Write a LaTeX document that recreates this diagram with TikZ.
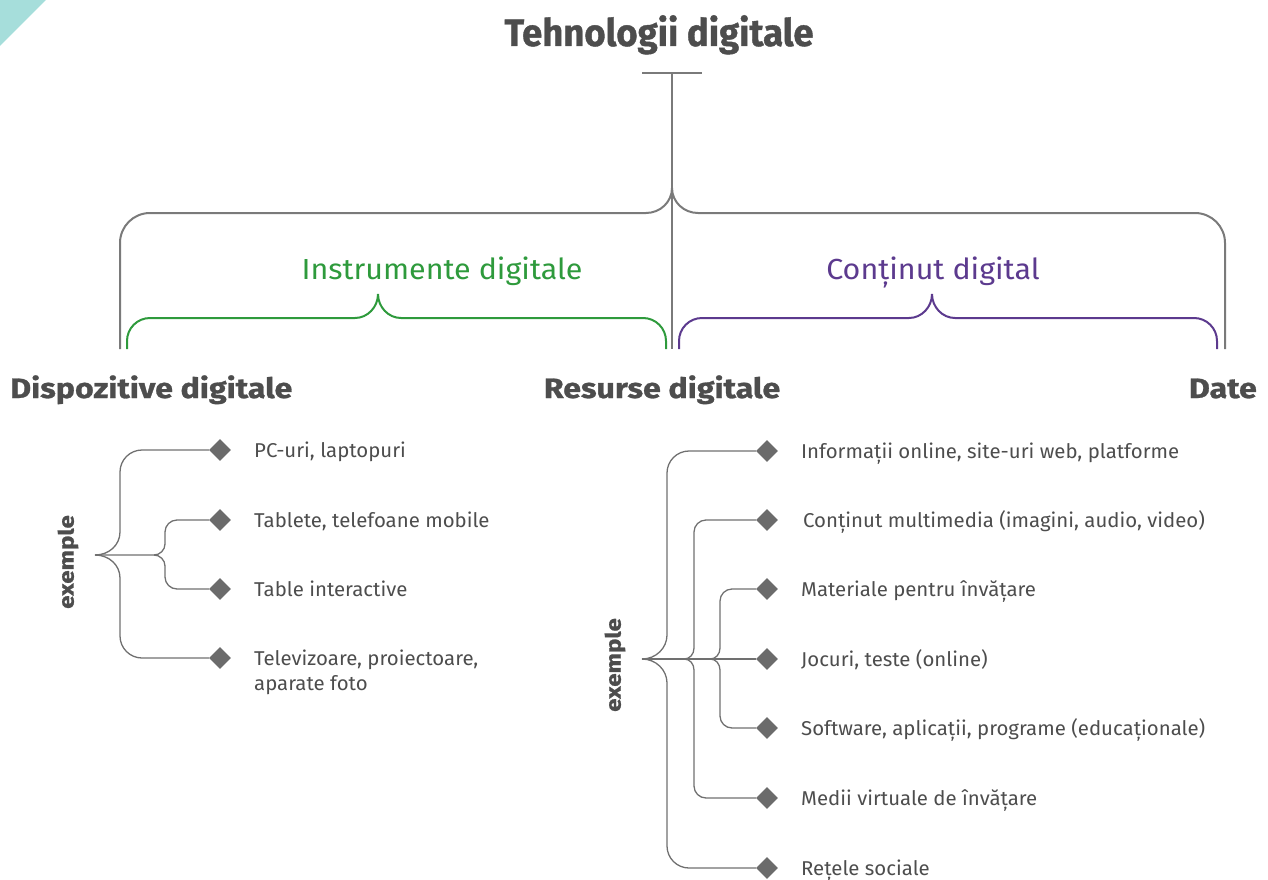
\documentclass[tikz,border=0pt]{standalone}
\usepackage{fontspec}
\setmainfont{Fira Sans}[FakeStretch=1.02]
\newfontfamily\catfont{Fira Sans}[FakeStretch=1.05]
\newfontfamily\headfont{Fira Sans}[FakeStretch=1.15, FakeBold=1]
\newfontfamily\titlefont{Fira Sans}[FakeStretch=0.96, FakeBold=1]
\usetikzlibrary{shapes.geometric}
\definecolor{txt}{HTML}{4D4D4D}
\definecolor{ln}{HTML}{7A7A7A}
\definecolor{tree}{HTML}{707070}
\definecolor{dia}{HTML}{6B6B6B}
\definecolor{grn}{HTML}{2E9A3C}
\definecolor{pur}{HTML}{5C3A8E}
\definecolor{tealc}{HTML}{A6DEDB}
\begin{document}
\begin{tikzpicture}[x=1pt,y=-1pt,
  titlestyle/.style={font=\titlefont\fontsize{38}{44}\selectfont\bfseries, text=txt, inner sep=0},
  head/.style={font=\headfont\fontsize{28}{32}\selectfont\bfseries, text=txt, inner sep=0},
  cat/.style={font=\catfont\fontsize{29}{34}\selectfont, inner sep=0},
  item/.style={font=\fontsize{20}{25}\selectfont, text=txt, inner sep=0, anchor=base west, align=left},
  ex/.style={font=\headfont\fontsize{21}{25}\selectfont\bfseries, text=txt, rotate=90, inner sep=0},
  dmd/.style={diamond, fill=dia, minimum width=22, minimum height=22, inner sep=0},
  conn/.style={draw=tree, line width=1.3},
  bracegray/.style={draw=ln, line width=2},
  bracegrn/.style={draw=grn, line width=2},
  bracepur/.style={draw=pur, line width=2}]
\useasboundingbox (0,0) rectangle (1268,880);
\fill[tealc] (0,0) -- (46,0) -- (0,46) -- cycle;

% title and top braces
\node[titlestyle, anchor=base] (title) at (659,46) {Tehnologii digitale};
\coordinate (tbar) at (672,73);
\coordinate (tstem) at (672,349);
\draw[bracegray] (642,73) -- (702,73);
\draw[bracegray] (tbar) -- (tstem);
\draw[bracegray] (120,349) -- (120,243) .. controls (120,226.4) and (133.4,213) .. (150,213) -- (646,213)
  .. controls (660.4,213) and (672,201.8) .. (672,188) .. controls (672,201.8) and (683.6,213) .. (698,213)
  -- (1195,213) .. controls (1211.6,213) and (1225,226.4) .. (1225,243) -- (1225,349);

\node[cat, text=grn, anchor=base] (instr) at (442,279) {Instrumente digitale};
\draw[bracegrn] (127,349) -- (127,341) .. controls (127,328.3) and (137.3,318) .. (150,318) -- (355,318)
  .. controls (367.7,318) and (378,307) .. (378,294) .. controls (378,307) and (388.3,318) .. (401,318)
  -- (643,318) .. controls (655.7,318) and (666,328.3) .. (666,341) -- (666,349);

\node[cat, text=pur, anchor=base] (cont) at (933,279) {Conținut digital};
\draw[bracepur] (679,349) -- (679,341) .. controls (679,328.3) and (689.3,318) .. (702,318) -- (909,318)
  .. controls (921.7,318) and (932,307) .. (932,294) .. controls (932,307) and (942.3,318) .. (955,318)
  -- (1194,318) .. controls (1206.7,318) and (1217,328.3) .. (1217,341) -- (1217,349);

\node[head, anchor=base west] (disp) at (10,398) {Dispozitive digitale};
\node[head, anchor=base] (res) at (662,398) {Resurse digitale};
\node[head, anchor=base east] (date) at (1257,398) {Date};

% left tree
\node[ex] (exL) at (68,562) {exemple};
\coordinate (L0) at (95,555);
\node[dmd] (L1) at (220,450) {};
\node[dmd] (L2) at (220,520) {};
\node[dmd] (L3) at (220,589) {};
\node[dmd] (L4) at (220,658) {};
\draw[conn] (L0) .. controls (109,555) and (120,545) .. (120,532) -- (120,472)
  .. controls (120,459.9) and (129.9,450) .. (142,450) -- (L1.west);
\draw[conn] (L0) .. controls (109,555) and (120,565) .. (120,578) -- (120,636)
  .. controls (120,648.1) and (129.9,658) .. (142,658) -- (L4.west);
\draw[conn] (L0) -- (154,555) .. controls (160,555) and (165,550) .. (165,544) -- (165,532)
  .. controls (165,525.4) and (170.4,520) .. (177,520) -- (L2.west);
\draw[conn] (154,555) .. controls (160,555) and (165,560) .. (165,566) -- (165,577)
  .. controls (165,583.6) and (170.4,589) .. (177,589) -- (L3.west);
\node[item] (t1) at (254,457) {PC-uri, laptopuri};
\node[item] (t2) at (254,527) {Tablete, telefoane mobile};
\node[item] (t3) at (254,596) {Table interactive};
\node[item] (t4) at (254,690) {Televizoare, proiectoare,\\aparate foto};

% right tree
\node[ex] (exR) at (615,665) {exemple};
\coordinate (R0) at (642,659);
\node[dmd] (R1) at (767,451) {};
\node[dmd] (R2) at (767,520) {};
\node[dmd] (R3) at (767,589) {};
\node[dmd] (R4) at (767,659) {};
\node[dmd] (R5) at (767,728) {};
\node[dmd] (R6) at (767,798) {};
\node[dmd] (R7) at (767,868) {};
\draw[conn] (R0) .. controls (656,659) and (667,648) .. (667,635) -- (667,473)
  .. controls (667,460.9) and (676.9,451) .. (689,451) -- (R1.west);
\draw[conn] (R0) .. controls (656,659) and (667,670) .. (667,683) -- (667,846)
  .. controls (667,858.1) and (676.9,868) .. (689,868) -- (R7.west);
\draw[conn] (R0) -- (684,659) .. controls (690,659) and (694,654) .. (694,648) -- (694,532)
  .. controls (694,525.4) and (699.4,520) .. (706,520) -- (R2.west);
\draw[conn] (684,659) .. controls (690,659) and (694,664) .. (694,670) -- (694,786)
  .. controls (694,792.6) and (699.4,798) .. (706,798) -- (R6.west);
\draw[conn] (R0) -- (710,659) .. controls (716,659) and (720,654) .. (720,648) -- (720,601)
  .. controls (720,594.4) and (725.4,589) .. (732,589) -- (R3.west);
\draw[conn] (710,659) .. controls (716,659) and (720,664) .. (720,670) -- (720,716)
  .. controls (720,722.6) and (725.4,728) .. (732,728) -- (R5.west);
\draw[conn] (R0) -- (R4.west);
\node[item] (s1) at (801,458) {Informații online, site-uri web, platforme};
\node[item] (s2) at (803,527) {Conținut multimedia (imagini, audio, video)};
\node[item] (s3) at (801,596) {Materiale pentru învățare};
\node[item] (s4) at (801,666) {Jocuri, teste (online)};
\node[item] (s5) at (801,735) {Software, aplicații, programe (educaționale)};
\node[item] (s6) at (801,805) {Medii virtuale de învățare};
\node[item] (s7) at (801,875) {Rețele sociale};
\end{tikzpicture}
\end{document}
